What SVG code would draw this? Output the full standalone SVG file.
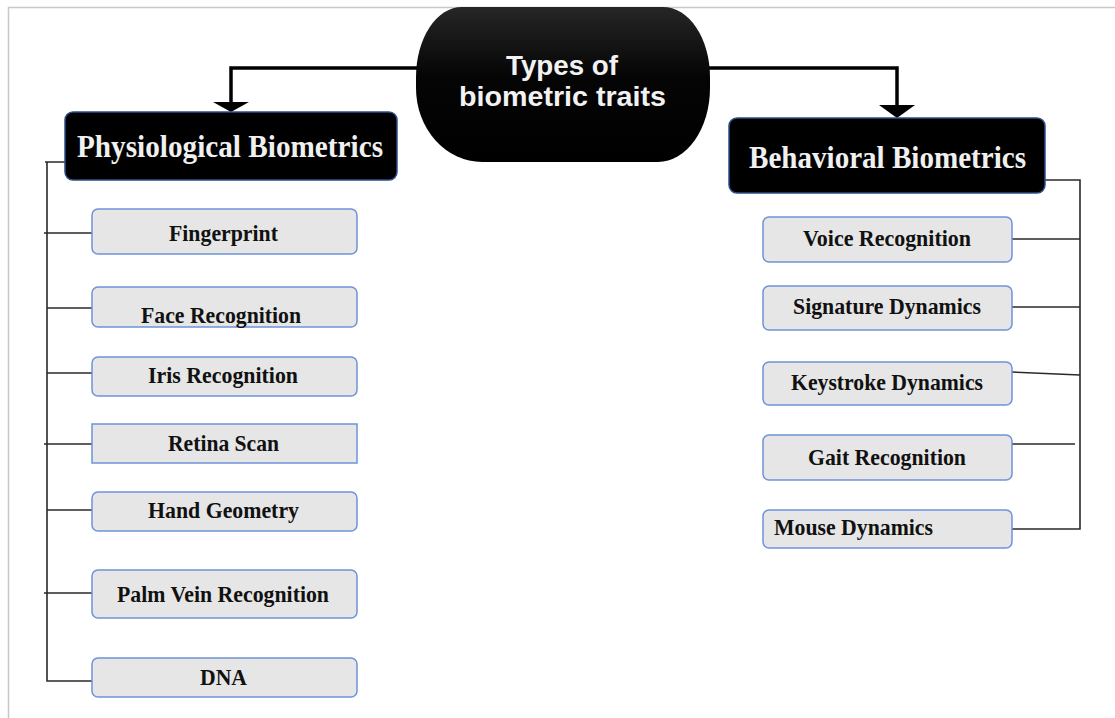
<svg xmlns="http://www.w3.org/2000/svg" width="1115" height="718" viewBox="0 0 1115 718">
<style>
.frame{stroke:#c8c8c8;stroke-width:1.5;fill:none}
.hdr{fill:#000;stroke:#2d4f8a;stroke-width:1.5}
.item{fill:#e6e6e6;stroke:#6f93d6;stroke-width:1.5}
.htxt{font-family:"Liberation Serif","Times New Roman",serif;font-weight:bold;font-size:31px;fill:#f0f0f0;text-anchor:middle}
.itxt{font-family:"Liberation Serif","Times New Roman",serif;font-weight:bold;font-size:23px;fill:#111;text-anchor:middle}
.ctxt{font-family:"Liberation Sans",Arial,sans-serif;font-weight:bold;font-size:27px;fill:#f2f2f2;text-anchor:middle}
.thick{stroke:#000;stroke-width:3.5;fill:none}
.thin{stroke:#2a2a2a;stroke-width:1.6;fill:none}
</style>
<defs>
<linearGradient id="g" x1="0" y1="0" x2="0" y2="1">
<stop offset="0" stop-color="#262626"/>
<stop offset="0.45" stop-color="#050505"/>
<stop offset="1" stop-color="#000"/>
</linearGradient>
</defs>
<rect width="1115" height="718" fill="#fff"/>
<path class="frame" d="M8.5,718 V7.5 H1115"/>
<g id="connectors">
<path class="thick" d="M420,68 H231 V103"/>
<polygon points="213,102 249,102 231,112" fill="#000"/>
<path class="thick" d="M706,68 H897 V106"/>
<polygon points="879,105 915,105 897,118" fill="#000"/>
<path class="thin" d="M45,162 H66 M47,162 V681 H95"/>
<path class="thin" d="M44,233 H92 M47,308 H95 M47,373 H92 M44,444 H92 M47,510 H95 M44,593 H92"/>
<path class="thin" d="M1045,180 H1080 V529 H1012"/>
<path class="thin" d="M1012,239 H1080 M1012,307 H1080 M1012,372 L1080,375 M1012,444 H1075"/>
</g>
<g id="root">
<path d="M462,7 H663 A47,70 0 0 1 710,77 V88 A52,74 0 0 1 658,162 H482 A66,74 0 0 1 416,88 V77 A46,70 0 0 1 462,7 Z" fill="url(#g)"/>
<text class="ctxt" x="562" y="75" textLength="112" lengthAdjust="spacingAndGlyphs">Types of</text>
<text class="ctxt" x="562.5" y="106" textLength="207" lengthAdjust="spacingAndGlyphs">biometric traits</text>
</g>
<g id="physiological">
<rect class="hdr" x="65" y="112" width="332" height="68" rx="8"/>
<text class="htxt" x="230" y="157" textLength="306" lengthAdjust="spacingAndGlyphs">Physiological Biometrics</text>
</g>
<g id="behavioral">
<rect class="hdr" x="729" y="118" width="316" height="75" rx="8"/>
<text class="htxt" x="887.5" y="168" textLength="277" lengthAdjust="spacingAndGlyphs">Behavioral Biometrics</text>
</g>
<g id="fingerprint">
<rect class="item" x="92" y="209" width="265" height="45" rx="6"/>
<text class="itxt" x="223.5" y="241" textLength="109" lengthAdjust="spacingAndGlyphs">Fingerprint</text>
</g>
<g id="face">
<rect class="item" x="92" y="287" width="265" height="40" rx="6"/>
<text class="itxt" x="221" y="323" textLength="160" lengthAdjust="spacingAndGlyphs">Face Recognition</text>
</g>
<g id="iris">
<rect class="item" x="92" y="357" width="265" height="39" rx="6"/>
<text class="itxt" x="223" y="383" textLength="150" lengthAdjust="spacingAndGlyphs">Iris Recognition</text>
</g>
<g id="retina">
<rect class="item" x="92" y="424" width="265" height="39"/>
<text class="itxt" x="223.5" y="451" textLength="111" lengthAdjust="spacingAndGlyphs">Retina Scan</text>
</g>
<g id="hand">
<rect class="item" x="92" y="492" width="265" height="39" rx="6"/>
<text class="itxt" x="223.5" y="518" textLength="151" lengthAdjust="spacingAndGlyphs">Hand Geometry</text>
</g>
<g id="palm">
<rect class="item" x="92" y="570" width="265" height="48" rx="6"/>
<text class="itxt" x="223" y="602" textLength="212" lengthAdjust="spacingAndGlyphs">Palm Vein Recognition</text>
</g>
<g id="dna">
<rect class="item" x="92" y="658" width="265" height="39" rx="6"/>
<text class="itxt" x="223.5" y="685" textLength="47" lengthAdjust="spacingAndGlyphs">DNA</text>
</g>
<g id="voice">
<rect class="item" x="763" y="217" width="249" height="45" rx="6"/>
<text class="itxt" x="887" y="246" textLength="168" lengthAdjust="spacingAndGlyphs">Voice Recognition</text>
</g>
<g id="signature">
<rect class="item" x="763" y="286" width="249" height="44" rx="6"/>
<text class="itxt" x="887" y="314" textLength="188" lengthAdjust="spacingAndGlyphs">Signature Dynamics</text>
</g>
<g id="keystroke">
<rect class="item" x="763" y="362" width="249" height="43" rx="6"/>
<text class="itxt" x="887" y="390" textLength="192" lengthAdjust="spacingAndGlyphs">Keystroke Dynamics</text>
</g>
<g id="gait">
<rect class="item" x="763" y="435" width="249" height="45" rx="6"/>
<text class="itxt" x="887" y="465" textLength="158" lengthAdjust="spacingAndGlyphs">Gait Recognition</text>
</g>
<g id="mouse">
<rect class="item" x="763" y="510" width="249" height="38" rx="6"/>
<text class="itxt" x="774" y="535" style="text-anchor:start" textLength="159" lengthAdjust="spacingAndGlyphs">Mouse Dynamics</text>
</g>
</svg>
